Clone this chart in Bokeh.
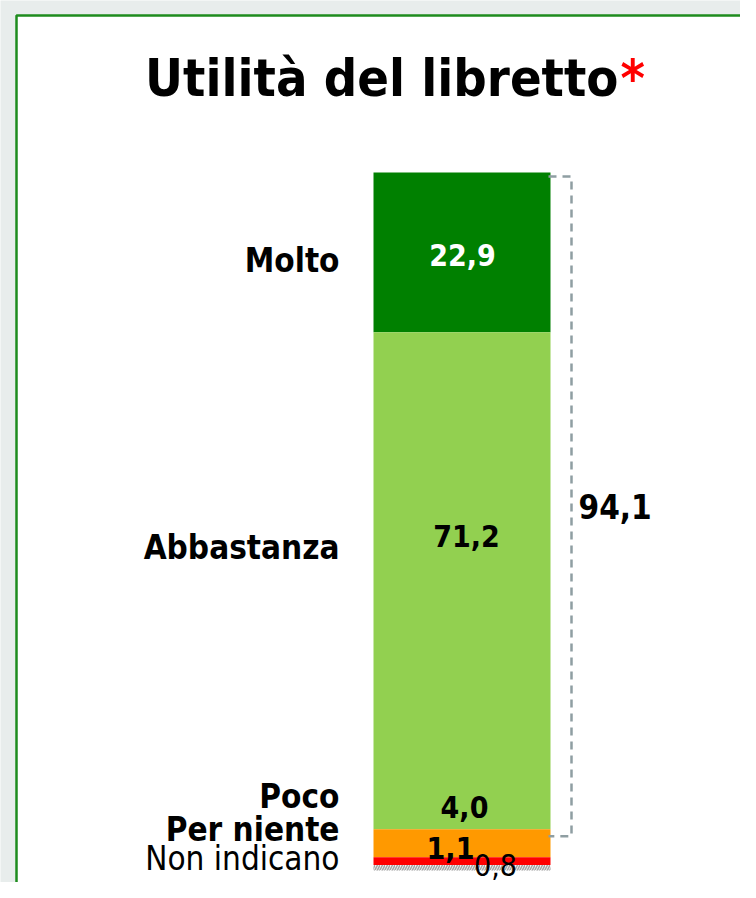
from bokeh.plotting import figure
from bokeh.models import Range1d, ColumnDataSource
from bokeh.core.properties import value
from bokeh.embed import file_html
from bokeh.resources import INLINE

# ---------------- data ----------------
title_text = "Utilità del libretto"
categories = ["Molto", "Abbastanza", "Poco", "Per niente", "Non indicano"]
values = [22.9, 71.2, 4.0, 1.1, 0.8]
value_labels = ["22,9", "71,2", "4,0", "1,1", "0,8"]
bracket_label = "94,1"   # Molto + Abbastanza

# ---------------- styles / layout ----------------
colors = ["#008000", "#92d050", "#ff9900", "#ff0000", "#ffffff"]
text_colors = ["#ffffff", "#000000", "#000000", "#000000", "#000000"]
value_weights = ["bold", "bold", "bold", "bold", "normal"]
cat_weights = ["bold", "bold", "bold", "bold", "normal"]
# label nudges in pixels (right, up) relative to segment centres
value_dx = [0.5, 4.5, 2.5, -11.5, 33.5]
value_dy = [-3, 45, 36, 12.6, 3]
cat_dy = [-8, 33, 47, 31.6, 9]

FONT = "DejaVu Sans Condensed"
W, H = 740, 882
XPX = 177.0        # pixels per x unit (bar width = 1)
YPX = 6.98         # pixels per percent
BAR_CX = 461.5     # bar centre, figure px
BAR_BOTTOM = 12.0  # bar bottom, px from figure bottom


def X(px):
    return (px - BAR_CX) / XPX


def Y(py):
    return (H - py - BAR_BOTTOM) / YPX


total = sum(values)
tops = [total - sum(values[:i]) for i in range(len(values))]
bottoms = [t - v for t, v in zip(tops, values)]
centers = [(t + b) / 2 for t, b in zip(tops, bottoms)]

p = figure(width=W, height=H, output_backend="svg", toolbar_location=None,
           x_range=Range1d(-BAR_CX / XPX, (W - BAR_CX) / XPX),
           y_range=Range1d(-BAR_BOTTOM / YPX, (H - BAR_BOTTOM) / YPX),
           min_border=0)
p.axis.visible = False
p.grid.visible = False
p.outline_line_color = None
p.background_fill_color = "#e8edec"
p.border_fill_color = "#e8edec"

# white slide panel with green frame
p.quad(left=X(16), right=X(900), top=Y(15), bottom=Y(1000),
       fill_color="#ffffff", line_color="#1e8c1e", line_width=2.5)

src = ColumnDataSource(dict(
    cat=categories, val=values, top=tops, bottom=bottoms, center=centers,
    color=colors, lab=value_labels, tcol=text_colors, vw=value_weights,
    cw=cat_weights, vdx=value_dx, vdy=[-d for d in value_dy],
    cdy=[-d for d in cat_dy],
))

p.quad(left=-0.5, right=0.5, top="top", bottom="bottom", fill_color="color",
       line_color=None, source=src)
# hatched "Non indicano" segment
p.quad(left=-0.5, right=0.5, top=tops[-1], bottom=bottoms[-1],
       fill_color="#f2f2f2", line_color=None, hatch_pattern="/",
       hatch_color="#a6a6a6", hatch_scale=5, hatch_weight=1.5)

# value labels
p.text(x=0, y="center", text="lab", x_offset="vdx", y_offset="vdy",
       text_color="tcol", text_font_style="vw", text_font=value(FONT),
       text_font_size="30px", text_align="center", text_baseline="middle",
       source=src)

# category labels
p.text(x=X(339), y="center", text="cat", y_offset="cdy",
       text_color="#000000", text_font_style="cw", text_font=value(FONT),
       text_font_size="33px", text_align="right", text_baseline="middle",
       source=src)

# bracket around Molto + Abbastanza
b_top = tops[0] - 4 / YPX
b_bot = bottoms[1] - 7 / YPX
p.line(x=[X(548), X(571), X(571), X(548)], y=[b_top, b_top, b_bot, b_bot],
       line_color="#8f9ea2", line_width=2.5, line_dash="8 6")
p.text(x=[X(578)], y=[(b_top + b_bot) / 2], text=[bracket_label],
       text_font=value(FONT), text_font_style="bold", text_font_size="33px",
       text_align="left", text_baseline="middle", text_color="#000000")

# title
p.text(x=[X(618)], y=[Y(77)], text=[title_text], text_font=value(FONT),
       text_font_style="bold", text_font_size="52px", text_align="right",
       text_baseline="alphabetic", text_color="#000000")
p.text(x=[X(620)], y=[Y(77)], text=["*"], text_font=value(FONT),
       text_font_style="bold", text_font_size="52px", text_align="left",
       text_baseline="alphabetic", text_color="#ff0000")

open("out.html", "w").write(file_html(p, INLINE))
